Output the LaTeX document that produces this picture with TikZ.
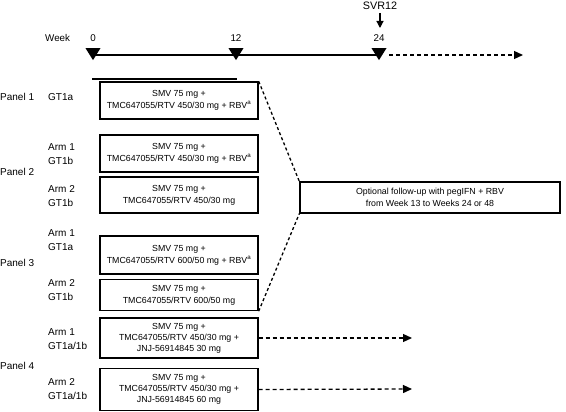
\documentclass[tikz,border=0pt]{standalone}
\usepackage{fontspec}
\setmainfont{Liberation Sans}
\usetikzlibrary{arrows.meta,shapes.geometric}
\begin{document}
\begin{tikzpicture}[x=1pt,y=-1pt,
  box/.style={draw, line width=1.4pt, minimum width=158pt, inner sep=0pt, align=center, font=\fontsize{8.8}{12}\selectfont},
  lbl/.style={anchor=west, align=left, font=\fontsize{10}{14.5}\selectfont, inner sep=0pt},
  tlbl/.style={font=\fontsize{9.8}{11}\selectfont, inner sep=0pt},
  tri/.style={fill, isosceles triangle, shape border rotate=-90, isosceles triangle apex angle=64, inner sep=0pt, minimum height=12pt},
  dsh/.style={dash pattern=on 4pt off 3pt, line width=1.3pt},
  tip/.style={-{Triangle[length=9pt,width=8pt]}}
]
\useasboundingbox (0,0) rectangle (566,412);
% timeline
\node[tlbl, anchor=west] (week) at (45,38) {Week};
\coordinate (t0) at (93,55);
\coordinate (t12) at (236,55);
\coordinate (t24) at (379,55);
\coordinate (tend) at (523,55);
\draw[line width=1.5pt] (t0) -- (t24);
\draw[dsh, tip] (389,55) coordinate (ds) -- (tend);
\foreach \p/\l in {t0/0, t12/12, t24/24}{
  \node[tri, anchor=apex] at ([yshift=-5.5pt]\p) {};
  \node[tlbl] at ([yshift=17pt]\p) {\l};
}
\node[font=\fontsize{10.8}{12}\selectfont, inner sep=0pt] (svr) at (380,6) {SVR12};
\coordinate (svrtip) at (380,28);
\draw[line width=1.2pt, -{Triangle[length=7pt,width=7pt]}] (380,13) -- (svrtip);
\draw[line width=2pt] (92,79) -- (237,79);
% boxes
\node[box, minimum height=37pt] (b1) at (179,100.5) {SMV 75 mg +\\TMC647055/RTV 450/30 mg + RBV\textsuperscript{a}};
\node[box, minimum height=37pt] (b2) at (179,153.5) {SMV 75 mg +\\TMC647055/RTV 450/30 mg + RBV\textsuperscript{a}};
\node[box, minimum height=36pt] (b3) at (179,195) {SMV 75 mg +\\TMC647055/RTV 450/30 mg};
\node[box, minimum height=38pt] (b4) at (179,255) {SMV 75 mg +\\TMC647055/RTV 600/50 mg + RBV\textsuperscript{a}};
\node[box, minimum height=31pt] (b5) at (179,295) {SMV 75 mg +\\TMC647055/RTV 600/50 mg};
\node[box, minimum height=40pt, font=\fontsize{8.8}{11}\selectfont] (b6) at (179,338) {SMV 75 mg +\\TMC647055/RTV 450/30 mg +\\JNJ-56914845 30 mg};
\node[box, minimum height=42pt, font=\fontsize{8.8}{11}\selectfont] (b7) at (179,389.5) {SMV 75 mg +\\TMC647055/RTV 450/30 mg +\\JNJ-56914845 60 mg};
\node[box, minimum width=260pt, minimum height=31pt] (fu) at (430,197.5) {Optional follow-up with pegIFN + RBV\\from Week 13 to Weeks 24 or 48};
% labels
\node[lbl] (p1) at (0,97) {Panel 1};
\node[lbl] (g1) at (48,97) {GT1a};
\node[lbl] (a2) at (48,154) {Arm 1\\GT1b};
\node[lbl] (p2) at (0,172) {Panel 2};
\node[lbl] (a3) at (48,196) {Arm 2\\GT1b};
\node[lbl] (a4) at (48,240) {Arm 1\\GT1a};
\node[lbl] (p3) at (0,263) {Panel 3};
\node[lbl] (a5) at (48,290) {Arm 2\\GT1b};
\node[lbl] (a6) at (48,339) {Arm 1\\GT1a/1b};
\node[lbl] (p4) at (0,366) {Panel 4};
\node[lbl] (a7) at (48,389) {Arm 2\\GT1a/1b};
% connectors
\draw[dsh, dash pattern=on 3pt off 2.5pt] (b1.north east) -- (fu.north west);
\draw[dsh, dash pattern=on 3pt off 2.5pt] (b5.south east) -- (fu.south west);
\coordinate (e6) at (412,338);
\coordinate (e7) at (412,389);
\draw[dsh, tip] (b6.east) -- (e6);
\draw[dsh, tip] (b7.east) -- (e7);
\end{tikzpicture}
\end{document}
